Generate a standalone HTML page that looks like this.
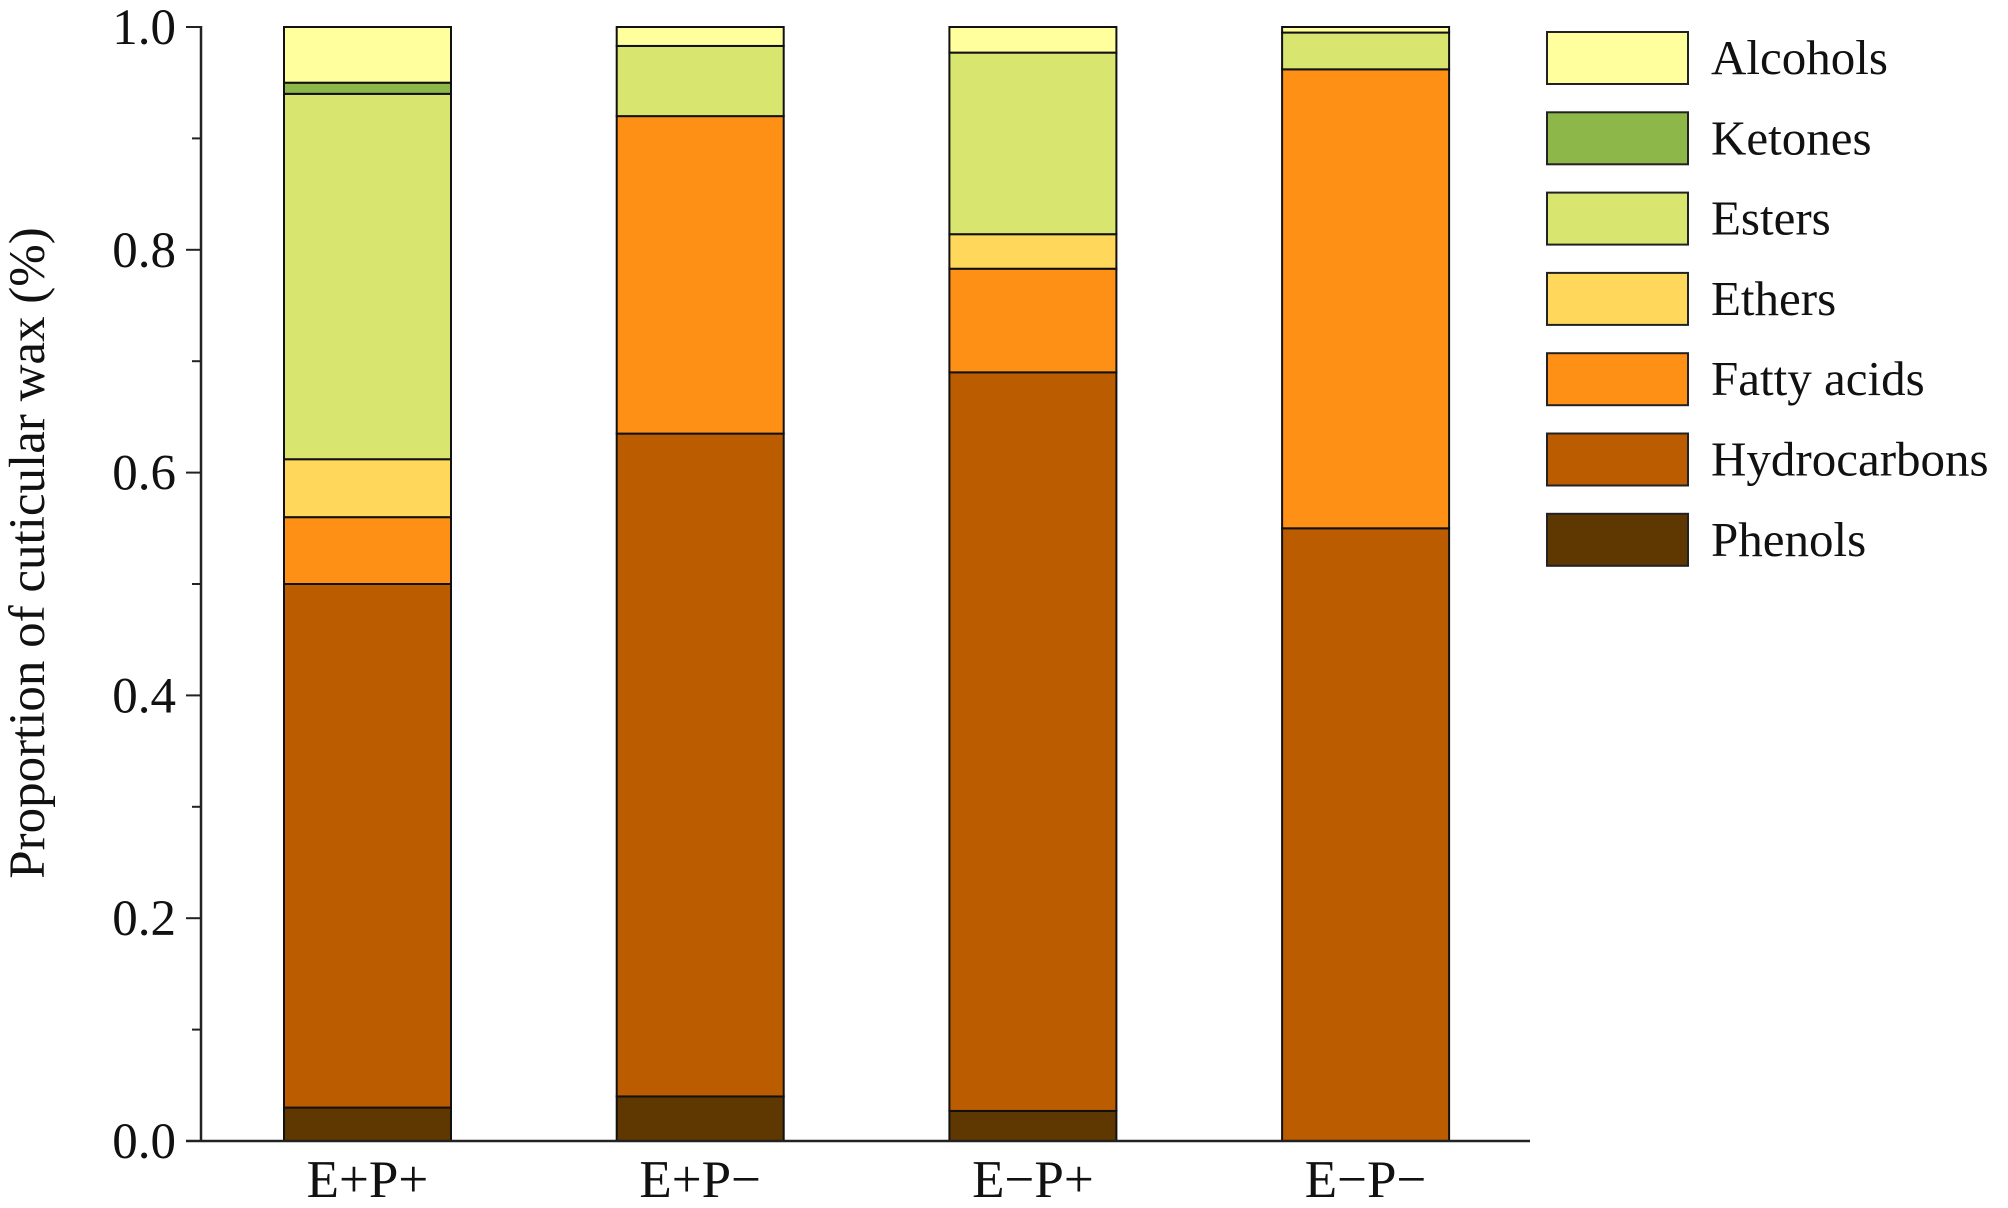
<!DOCTYPE html>
<html><head><meta charset="utf-8"><style>
html,body{margin:0;padding:0;background:#fff;}
svg{display:block;font-family:"Liberation Serif",serif;}
</style></head><body>
<svg id="chart" width="2008" height="1208" viewBox="0 0 2008 1208">
<g id="bars"></g>
<g id="axes"></g>
<g id="legend"></g>
<text transform="translate(44,553) rotate(-90)" text-anchor="middle" font-size="51" fill="#111">Proportion of cuticular wax (%)</text>
</svg>
<script>
const categories = ["E+P+","E+P\u2212","E\u2212P+","E\u2212P\u2212"];
const seriesNames = ["Phenols","Hydrocarbons","Fatty acids","Ethers","Esters","Ketones","Alcohols"];
const phenols = [0.030,0.040,0.027,0.000];
const hydrocarbons = [0.470,0.595,0.663,0.550];
const fattyAcids = [0.060,0.285,0.093,0.412];
const ethers = [0.052,0.000,0.031,0.000];
const esters = [0.328,0.063,0.163,0.033];
const ketones = [0.010,0.000,0.000,0.000];
const alcohols = [0.050,0.017,0.023,0.005];
const yTicks = [0,0.2,0.4,0.6,0.8,1.0];
const tickLabels = ["0.0","0.2","0.4","0.6","0.8","1.0"];

const colors = ["#5e3800","#bb5c00","#fd9015","#ffd75a","#d8e56f","#8db849","#ffff9e"];
const series = [phenols,hydrocarbons,fattyAcids,ethers,esters,ketones,alcohols];
const NS="http://www.w3.org/2000/svg";
const X0=201, X1=1530, Y0=1141, Y1=27;
const y = v => Y0 - v*(Y0-Y1);
const bandStart=284, bandStep=332.7, barW=167;
const xb = i => bandStart + i*bandStep;
function mk(tag,attrs,parent){const e=document.createElementNS(NS,tag);for(const k in attrs)e.setAttribute(k,attrs[k]);parent.appendChild(e);return e;}
const gb=document.getElementById('bars');
categories.forEach((c,i)=>{
  let acc=0;
  series.forEach((s,j)=>{
    const v=s[i]; if(v<=0){return;}
    const r=mk('rect',{x:xb(i),y:y(acc+v),width:barW,height:y(acc)-y(acc+v),fill:colors[j],stroke:'#111','stroke-width':2},gb);
    
    
    acc+=v;
  });
  const t=mk('text',{x:xb(i)+barW/2,y:1197,'text-anchor':'middle','font-size':53,fill:'#111'},gb);
  t.textContent=c;
  
  
});
const ga=document.getElementById('axes');
const ya=mk('line',{x1:X0,y1:Y1-1,x2:X0,y2:Y0,stroke:'#222','stroke-width':2.5},ga);


const xa=mk('line',{x1:186,y1:Y0,x2:X1,y2:Y0,stroke:'#222','stroke-width':2.5},ga);


for(let k=0;k<=10;k++){
  const v=k/10;
  const major=k%2===0;
  const tk=mk('line',{x1:major?186:192,y1:y(v),x2:X0,y2:y(v),stroke:'#222','stroke-width':2},ga);
  
  
}
yTicks.forEach((v,i)=>{
  const t=mk('text',{x:176,y:y(v)+17,'text-anchor':'end','font-size':51,fill:'#111'},ga);
  t.textContent=tickLabels[i];
  
  
});
const gl=document.getElementById('legend');
for(let j=6;j>=0;j--){
  const row=6-j;
  const top=32+row*80.3;
  const g=mk('g',{},gl);
  
  
  mk('rect',{x:1547,y:top,width:141,height:52,fill:colors[j],stroke:'#222','stroke-width':2},g);
  const t=mk('text',{x:1711,y:top+42,'font-size':49,fill:'#111'},g);
  t.textContent=seriesNames[j];
}
</script>
</body></html>
